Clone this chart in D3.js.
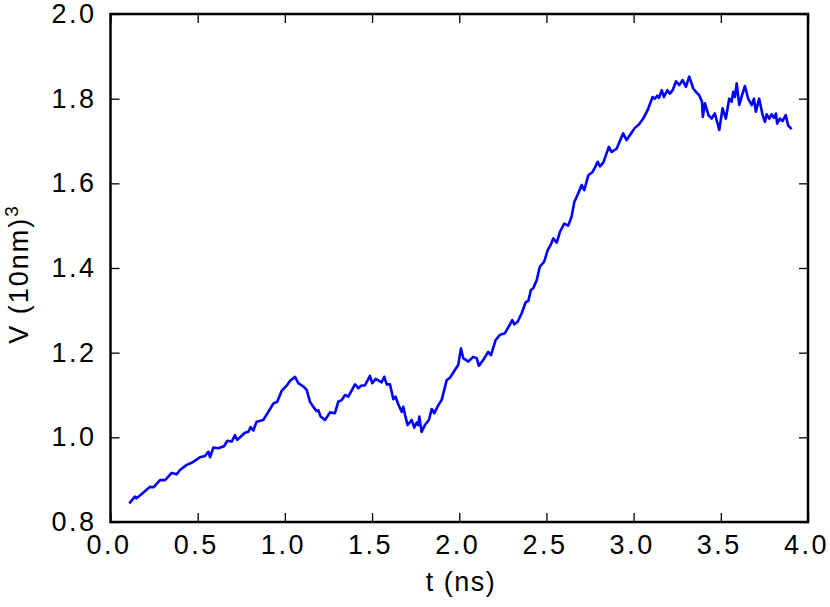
<!DOCTYPE html>
<html><head><meta charset="utf-8">
<script src="https://cdn.jsdelivr.net/npm/d3@7"></script>
<style>body{margin:0;background:#fff}text{font-family:"Liberation Sans",Arial,sans-serif}</style>
</head><body><svg id="c" width="830" height="607"></svg>
<script>
const tValues = [0.108,0.14,0.149,0.179,0.226,0.246,0.284,0.313,0.351,0.38,0.398,0.437,0.466,0.485,0.513,0.542,0.561,0.571,0.590,0.618,0.651,0.670,0.695,0.714,0.727,0.771,0.790,0.804,0.819,0.838,0.876,0.905,0.934,0.956,0.982,1.010,1.029,1.058,1.077,1.106,1.125,1.144,1.163,1.182,1.192,1.205,1.230,1.259,1.287,1.306,1.326,1.345,1.364,1.402,1.421,1.437,1.459,1.488,1.501,1.521,1.555,1.570,1.584,1.603,1.622,1.635,1.650,1.670,1.679,1.689,1.704,1.727,1.742,1.756,1.765,1.771,1.784,1.803,1.826,1.842,1.857,1.880,1.899,1.928,1.947,1.975,1.994,2.010,2.023,2.052,2.080,2.100,2.113,2.138,2.166,2.182,2.209,2.233,2.262,2.291,2.304,2.316,2.335,2.358,2.381,2.396,2.411,2.424,2.444,2.462,2.487,2.507,2.526,2.539,2.559,2.577,2.602,2.625,2.644,2.660,2.682,2.702,2.717,2.740,2.763,2.778,2.794,2.807,2.826,2.858,2.874,2.903,2.927,2.940,2.960,2.979,3.007,3.030,3.055,3.080,3.109,3.122,3.135,3.146,3.161,3.174,3.193,3.208,3.224,3.243,3.262,3.281,3.300,3.319,3.342,3.357,3.376,3.392,3.397,3.409,3.429,3.447,3.466,3.491,3.510,3.529,3.548,3.562,3.571,3.581,3.591,3.606,3.619,3.638,3.657,3.677,3.690,3.701,3.720,3.740,3.753,3.763,3.778,3.791,3.805,3.816,3.823,3.839,3.854,3.872,3.886,3.906];
const vValues = [0.844,0.860,0.856,0.866,0.883,0.882,0.899,0.899,0.916,0.913,0.923,0.935,0.940,0.945,0.953,0.956,0.966,0.953,0.976,0.974,0.979,0.992,0.990,1.005,0.994,1.011,1.013,1.024,1.016,1.037,1.041,1.060,1.080,1.084,1.110,1.122,1.133,1.143,1.128,1.120,1.112,1.084,1.072,1.062,1.064,1.049,1.041,1.059,1.057,1.084,1.088,1.100,1.096,1.125,1.116,1.122,1.123,1.145,1.128,1.138,1.130,1.143,1.125,1.125,1.090,1.096,1.078,1.060,1.072,1.053,1.029,1.041,1.023,1.035,1.029,1.049,1.013,1.029,1.041,1.067,1.057,1.076,1.088,1.135,1.141,1.159,1.171,1.210,1.187,1.179,1.190,1.187,1.169,1.183,1.202,1.194,1.230,1.242,1.246,1.267,1.277,1.267,1.273,1.293,1.319,1.322,1.348,1.352,1.371,1.403,1.415,1.442,1.456,1.470,1.460,1.485,1.505,1.500,1.521,1.556,1.576,1.596,1.584,1.619,1.626,1.637,1.651,1.640,1.649,1.686,1.674,1.682,1.706,1.718,1.702,1.714,1.731,1.739,1.753,1.773,1.804,1.800,1.807,1.802,1.820,1.804,1.820,1.812,1.820,1.841,1.832,1.844,1.828,1.852,1.824,1.816,1.808,1.793,1.757,1.789,1.761,1.753,1.765,1.726,1.777,1.753,1.800,1.793,1.816,1.804,1.836,1.785,1.804,1.830,1.800,1.785,1.800,1.769,1.800,1.761,1.745,1.763,1.753,1.763,1.755,1.765,1.741,1.753,1.747,1.761,1.737,1.728];
const xTicks = [0.0,0.5,1.0,1.5,2.0,2.5,3.0,3.5,4.0];
const yTicks = [0.8,1.0,1.2,1.4,1.6,1.8,2.0];
const xLabel = "t (ns)";

const L=110.5,R=808,T=14,B=522;
const svg=d3.select("#c");
const x=d3.scaleLinear().domain([0,4]).range([L,R]);
const y=d3.scaleLinear().domain([0.8,2.0]).range([B,T]);
const data=tValues.map((t,i)=>[t,vValues[i]]);

svg.append("path").datum(data)
  .attr("d",d3.line().x(d=>x(d[0])).y(d=>y(d[1])))
  .attr("fill","none").attr("stroke","#0000ff").attr("stroke-width",2.6).attr("stroke-linejoin","round");

const tk=9;
const fmt=d3.format(".1f");
const axB=d3.axisBottom(x).tickValues(xTicks).tickFormat(fmt).tickSizeInner(-tk).tickSizeOuter(0).tickPadding(13);
const axT=d3.axisTop(x).tickValues(xTicks).tickFormat("").tickSizeInner(-tk).tickSizeOuter(0);
const axL=d3.axisLeft(y).tickValues(yTicks).tickFormat(fmt).tickSizeInner(-tk).tickSizeOuter(0).tickPadding(14);
const axR=d3.axisRight(y).tickValues(yTicks).tickFormat("").tickSizeInner(-tk).tickSizeOuter(0);
const gs=[
 svg.append("g").attr("transform",`translate(0,${B})`).call(axB),
 svg.append("g").attr("transform",`translate(0,${T})`).call(axT),
 svg.append("g").attr("transform",`translate(${L},0)`).call(axL),
 svg.append("g").attr("transform",`translate(${R},0)`).call(axR)];
gs.forEach(g=>{
  g.select(".domain").remove();
  g.selectAll(".tick line").attr("stroke","#000").attr("stroke-width",1.3);
  g.selectAll(".tick text").attr("fill","#000").style("font-size","27px").style("letter-spacing","2.5px");
});
gs[0].selectAll(".tick text").attr("dx","-2px");

svg.append("rect").attr("x",L).attr("y",T).attr("width",R-L).attr("height",B-T)
  .attr("fill","none").attr("stroke","#000").attr("stroke-width",2.5);

svg.append("text").attr("x",461).attr("y",591).attr("text-anchor","middle")
  .style("font-size","27px").style("letter-spacing","1.5px").text(xLabel);

const yl=svg.append("text").attr("transform","translate(28,274) rotate(-90)").attr("text-anchor","middle")
  .style("font-size","27px").style("letter-spacing","2px");
yl.append("tspan").text("V  (10nm)");
yl.append("tspan").attr("dy","-10").style("font-size","19px").text("3");
</script></body></html>
